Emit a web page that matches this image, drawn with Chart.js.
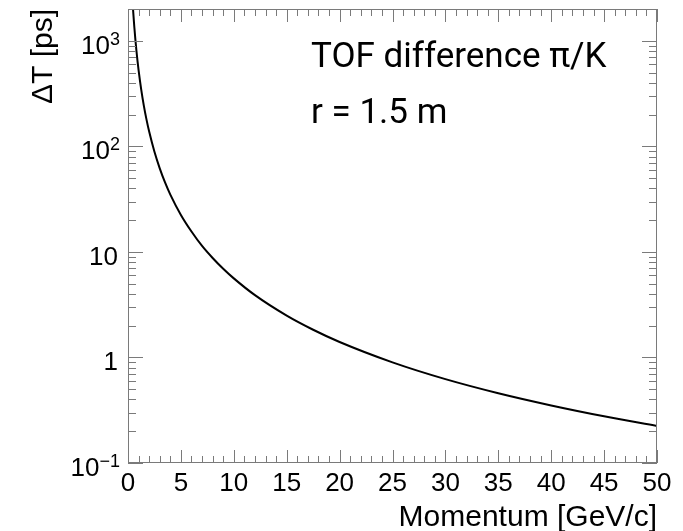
<!DOCTYPE html>
<html>
<head>
<meta charset="utf-8">
<script src="https://cdn.jsdelivr.net/npm/chart.js@4/dist/chart.umd.min.js"></script>
<style>
  html, body { margin: 0; padding: 0; background: #fff; }
  #wrap { width: 683px; height: 531px; }
</style>
</head>
<body>
<div id="wrap"><canvas id="c" width="683" height="531"></canvas></div>
<script>
// Momentum [GeV/c]
const momentum = [0.45, 0.47, 0.5, 0.55, 0.6, 0.7, 0.8, 0.9, 1.0, 1.25, 1.5, 1.75, 2, 2.5, 3, 3.5, 4, 5, 6, 7, 8, 9, 10, 12, 15, 17.5, 20, 25, 30, 35, 40, 45, 50];
// ΔT [ps]
const deltaT = [2188, 2037, 1836, 1561, 1342, 1020, 800, 643, 528, 345, 242, 179, 138, 88.8, 61.9, 45.5, 34.9, 22.4, 15.6, 11.4, 8.76, 6.92, 5.61, 3.89, 2.49, 1.83, 1.40, 0.898, 0.623, 0.458, 0.351, 0.277, 0.224];
const xTickLabels = ['0', '5', '10', '15', '20', '25', '30', '35', '40', '45', '50'];
const yTickLabels = [['10', '-1'], ['1', ''], ['10', ''], ['10', '2'], ['10', '3']];
const yTickValues = [0.1, 1, 10, 100, 1000];
const xTitle = 'Momentum [GeV/c]';
const yTitle = 'ΔT [ps]';
const annotation = ['TOF difference π/K', 'r = 1.5 m'];

const points = momentum.map((p, i) => ({ x: p, y: deltaT[i] }));

const frameColor = '#7a7a7a';
const helv = '"Liberation Sans", Arial, Helvetica, sans-serif';

const rootStyle = {
  id: 'rootStyle',
  afterDraw(chart) {
    const ctx = chart.ctx;
    const a = chart.chartArea;
    const xs = chart.scales.x, ys = chart.scales.y;
    ctx.save();
    // frame
    ctx.strokeStyle = frameColor;
    ctx.lineWidth = 1;
    ctx.strokeRect(Math.round(a.left) + 0.5, Math.round(a.top) + 0.5, Math.round(a.right - a.left) - 1, Math.round(a.bottom - a.top) - 1);
    // x ticks
    ctx.beginPath();
    for (let v = xs.min; v <= xs.max + 1e-9; v += 1) {
      const px = Math.round(xs.getPixelForValue(v)) + 0.5;
      const len = (Math.round(v) % 5 === 0) ? 13 : 7;
      ctx.moveTo(px, a.bottom); ctx.lineTo(px, a.bottom - len);
      ctx.moveTo(px, a.top); ctx.lineTo(px, a.top + len);
    }
    // y ticks (log)
    for (let e = -1; e <= 3; e++) {
      for (let k = 1; k <= 9; k++) {
        const v = k * Math.pow(10, e);
        if (v < ys.min - 1e-12 || v > ys.max + 1e-9) continue;
        const py = Math.round(ys.getPixelForValue(v)) + 0.5;
        const len = (k === 1) ? 15 : 8;
        ctx.moveTo(a.left, py); ctx.lineTo(a.left + len, py);
        ctx.moveTo(a.right, py); ctx.lineTo(a.right - len, py);
      }
    }
    ctx.stroke();

    // x tick labels
    ctx.fillStyle = '#000';
    ctx.font = '26px ' + helv;
    ctx.textAlign = 'center';
    ctx.textBaseline = 'alphabetic';
    xTickLabels.forEach((t) => {
      const px = xs.getPixelForValue(parseFloat(t));
      ctx.fillText(t, px, 491);
    });
    // y tick labels with superscripts
    yTickValues.forEach((v, i) => {
      const py = ys.getPixelForValue(v);
      const [base, sup] = yTickLabels[i];
      const right = 120;
      ctx.textAlign = 'right';
      if (sup) {
        const s = sup === '-1' ? '\u22121' : sup;
        ctx.font = '18px ' + helv;
        const sw = ctx.measureText(s).width;
        ctx.fillText(s, right, py + 4);
        ctx.font = '26px ' + helv;
        ctx.fillText(base, right - sw, py + 13);
      } else {
        ctx.font = '26px ' + helv;
        ctx.fillText(base, right - 2, py + 13);
      }
    });
    // axis titles
    ctx.font = '30px ' + helv;
    ctx.textAlign = 'right';
    ctx.fillText(xTitle, a.right, 526);
    ctx.save();
    ctx.translate(52, a.top);
    ctx.rotate(-Math.PI / 2);
    ctx.textAlign = 'right';
    ctx.fillText(yTitle, 0, 0);
    ctx.restore();
    // annotation
    ctx.font = '35px Roboto, "Noto Sans", sans-serif';
    ctx.textAlign = 'left';
    ctx.fillText(annotation[0], 311, 67);
    ctx.fillText(annotation[1], 311, 123);
    ctx.restore();
  }
};

new Chart(document.getElementById('c'), {
  type: 'scatter',
  data: {
    datasets: [{
      data: points,
      showLine: true,
      borderColor: '#000',
      borderWidth: 2,
      pointRadius: 0,
      cubicInterpolationMode: 'monotone',
      clip: 0
    }]
  },
  options: {
    responsive: false,
    animation: false,
    events: [],
    layout: { padding: { left: 0, right: 26, top: 9, bottom: 0 } },
    plugins: { legend: { display: false }, tooltip: { enabled: false } },
    scales: {
      x: {
        type: 'linear', min: 0, max: 50,
        grid: { display: false }, border: { display: false },
        ticks: { display: false },
        afterFit(s) { s.height = 68; }
      },
      y: {
        type: 'logarithmic', min: 0.1, max: 2000,
        grid: { display: false }, border: { display: false },
        ticks: { display: false },
        afterFit(s) { s.width = 128; }
      }
    }
  },
  plugins: [rootStyle]
});
</script>
</body>
</html>
